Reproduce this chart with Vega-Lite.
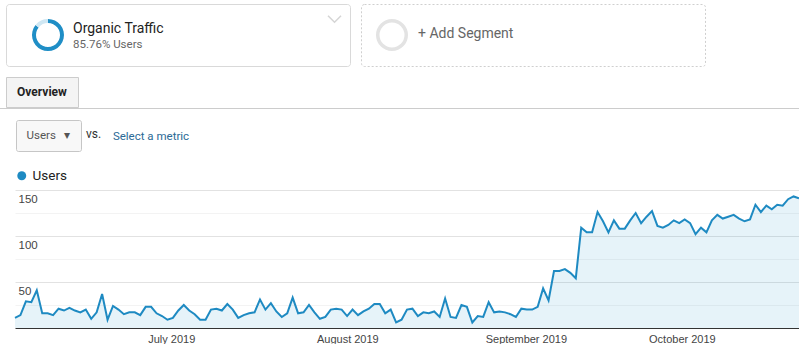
{
  "$schema": "https://vega.github.io/schema/vega-lite/v6.json",
  "padding": 0,
  "background": "white",
  "spacing": 0,
  "resolve": {"scale": {"color": "independent"}, "legend": {"color": "independent"}},
  "config": {"view": {"stroke": null}, "font": "Roboto"},
  "datasets": {
    "segment": [
      {"segment": "Organic Traffic", "share": 85.76},
      {"segment": "Other", "share": 14.24}
    ],
    "annotations": [
      {"date": "2019-07-03"}, {"date": "2019-08-01"}, {"date": "2019-08-29"}, {"date": "2019-10-03"}
    ],
    "traffic": [
      {"date": "2019-06-07", "users": 11}, {"date": "2019-06-08", "users": 14}, {"date": "2019-06-09", "users": 29},
      {"date": "2019-06-10", "users": 28}, {"date": "2019-06-11", "users": 41}, {"date": "2019-06-12", "users": 16},
      {"date": "2019-06-13", "users": 16}, {"date": "2019-06-14", "users": 14}, {"date": "2019-06-15", "users": 21},
      {"date": "2019-06-16", "users": 19}, {"date": "2019-06-17", "users": 22}, {"date": "2019-06-18", "users": 19},
      {"date": "2019-06-19", "users": 17}, {"date": "2019-06-20", "users": 20}, {"date": "2019-06-21", "users": 10},
      {"date": "2019-06-22", "users": 17}, {"date": "2019-06-23", "users": 37}, {"date": "2019-06-24", "users": 9},
      {"date": "2019-06-25", "users": 24}, {"date": "2019-06-26", "users": 20}, {"date": "2019-06-27", "users": 15},
      {"date": "2019-06-28", "users": 17}, {"date": "2019-06-29", "users": 17}, {"date": "2019-06-30", "users": 14},
      {"date": "2019-07-01", "users": 23}, {"date": "2019-07-02", "users": 23}, {"date": "2019-07-03", "users": 16},
      {"date": "2019-07-04", "users": 13}, {"date": "2019-07-05", "users": 9}, {"date": "2019-07-06", "users": 11},
      {"date": "2019-07-07", "users": 19}, {"date": "2019-07-08", "users": 25}, {"date": "2019-07-09", "users": 19},
      {"date": "2019-07-10", "users": 15}, {"date": "2019-07-11", "users": 9}, {"date": "2019-07-12", "users": 9},
      {"date": "2019-07-13", "users": 20}, {"date": "2019-07-14", "users": 21}, {"date": "2019-07-15", "users": 19},
      {"date": "2019-07-16", "users": 26}, {"date": "2019-07-17", "users": 20}, {"date": "2019-07-18", "users": 11},
      {"date": "2019-07-19", "users": 14}, {"date": "2019-07-20", "users": 16}, {"date": "2019-07-21", "users": 17},
      {"date": "2019-07-22", "users": 31}, {"date": "2019-07-23", "users": 20}, {"date": "2019-07-24", "users": 27},
      {"date": "2019-07-25", "users": 18}, {"date": "2019-07-26", "users": 12}, {"date": "2019-07-27", "users": 16},
      {"date": "2019-07-28", "users": 33}, {"date": "2019-07-29", "users": 16}, {"date": "2019-07-30", "users": 17},
      {"date": "2019-07-31", "users": 25}, {"date": "2019-08-01", "users": 17}, {"date": "2019-08-02", "users": 10},
      {"date": "2019-08-03", "users": 12}, {"date": "2019-08-04", "users": 20}, {"date": "2019-08-05", "users": 21},
      {"date": "2019-08-06", "users": 20}, {"date": "2019-08-07", "users": 13}, {"date": "2019-08-08", "users": 20},
      {"date": "2019-08-09", "users": 14}, {"date": "2019-08-10", "users": 18}, {"date": "2019-08-11", "users": 21},
      {"date": "2019-08-12", "users": 26}, {"date": "2019-08-13", "users": 26}, {"date": "2019-08-14", "users": 16},
      {"date": "2019-08-15", "users": 20}, {"date": "2019-08-16", "users": 6}, {"date": "2019-08-17", "users": 9},
      {"date": "2019-08-18", "users": 20}, {"date": "2019-08-19", "users": 21}, {"date": "2019-08-20", "users": 13},
      {"date": "2019-08-21", "users": 17}, {"date": "2019-08-22", "users": 16}, {"date": "2019-08-23", "users": 18},
      {"date": "2019-08-24", "users": 12}, {"date": "2019-08-25", "users": 32}, {"date": "2019-08-26", "users": 12},
      {"date": "2019-08-27", "users": 11}, {"date": "2019-08-28", "users": 25}, {"date": "2019-08-29", "users": 23},
      {"date": "2019-08-30", "users": 6}, {"date": "2019-08-31", "users": 13}, {"date": "2019-09-01", "users": 12},
      {"date": "2019-09-02", "users": 28}, {"date": "2019-09-03", "users": 17}, {"date": "2019-09-04", "users": 18},
      {"date": "2019-09-05", "users": 17}, {"date": "2019-09-06", "users": 15}, {"date": "2019-09-07", "users": 12},
      {"date": "2019-09-08", "users": 21}, {"date": "2019-09-09", "users": 20}, {"date": "2019-09-10", "users": 20},
      {"date": "2019-09-11", "users": 23}, {"date": "2019-09-12", "users": 43}, {"date": "2019-09-13", "users": 30},
      {"date": "2019-09-14", "users": 62}, {"date": "2019-09-15", "users": 62}, {"date": "2019-09-16", "users": 64},
      {"date": "2019-09-17", "users": 60}, {"date": "2019-09-18", "users": 54}, {"date": "2019-09-19", "users": 109},
      {"date": "2019-09-20", "users": 104}, {"date": "2019-09-21", "users": 104}, {"date": "2019-09-22", "users": 126},
      {"date": "2019-09-23", "users": 116}, {"date": "2019-09-24", "users": 104}, {"date": "2019-09-25", "users": 117},
      {"date": "2019-09-26", "users": 108}, {"date": "2019-09-27", "users": 108}, {"date": "2019-09-28", "users": 117},
      {"date": "2019-09-29", "users": 125}, {"date": "2019-09-30", "users": 114}, {"date": "2019-10-01", "users": 121},
      {"date": "2019-10-02", "users": 127}, {"date": "2019-10-03", "users": 111}, {"date": "2019-10-04", "users": 109},
      {"date": "2019-10-05", "users": 112}, {"date": "2019-10-06", "users": 117}, {"date": "2019-10-07", "users": 114},
      {"date": "2019-10-08", "users": 118}, {"date": "2019-10-09", "users": 114}, {"date": "2019-10-10", "users": 102},
      {"date": "2019-10-11", "users": 109}, {"date": "2019-10-12", "users": 104}, {"date": "2019-10-13", "users": 117},
      {"date": "2019-10-14", "users": 123}, {"date": "2019-10-15", "users": 119}, {"date": "2019-10-16", "users": 121},
      {"date": "2019-10-17", "users": 123}, {"date": "2019-10-18", "users": 119}, {"date": "2019-10-19", "users": 116},
      {"date": "2019-10-20", "users": 118}, {"date": "2019-10-21", "users": 134}, {"date": "2019-10-22", "users": 126},
      {"date": "2019-10-23", "users": 133}, {"date": "2019-10-24", "users": 129}, {"date": "2019-10-25", "users": 134},
      {"date": "2019-10-26", "users": 133}, {"date": "2019-10-27", "users": 140}, {"date": "2019-10-28", "users": 143},
      {"date": "2019-10-29", "users": 141}
    ]
  },
  "vconcat": [
    {"data": {"values": []}, "mark": "point", "width": 1, "height": 3},
    {
      "spacing": 0,
      "hconcat": [
        {"data": {"values": []}, "mark": "point", "width": 5, "height": 62},
        {
          "width": 344, "height": 62,
          "view": {"stroke": "#d9d9d9", "strokeWidth": 1, "cornerRadius": 3},
          "title": {
            "text": "Organic Traffic", "subtitle": "85.76% Users",
            "anchor": "start", "frame": "group", "dx": 67, "offset": -46,
            "font": "Roboto", "fontSize": 14, "fontWeight": "normal", "color": "#222222",
            "subtitleFont": "Roboto", "subtitleFontSize": 11.5, "subtitleColor": "#666666", "subtitlePadding": 3
          },
          "resolve": {"scale": {"x": "independent", "y": "independent"}},
          "layer": [
            {
              "data": {"name": "segment"},
              "mark": {"type": "arc", "innerRadius": 12, "outerRadius": 16},
              "encoding": {
                "x": {"datum": "Organic Traffic", "type": "nominal", "axis": null,
                      "scale": {"type": "point", "align": 0.1221}},
                "theta": {"field": "share", "type": "quantitative"},
                "color": {"field": "segment", "type": "nominal",
                          "scale": {"domain": ["Organic Traffic", "Other"], "range": ["#1f8ec6", "#cfe7f3"]},
                          "legend": null}
              }
            },
            {
              "data": {"values": [{"icon": "collapse"}]},
              "mark": {"type": "point", "shape": "M-1,-0.5L0,0.5L1,-0.5", "size": 169, "filled": false,
                       "stroke": "#c4c4c4", "strokeWidth": 1.5},
              "encoding": {
                "x": {"datum": "collapse", "type": "nominal", "axis": null,
                      "scale": {"type": "point", "align": 0.955}},
                "y": {"datum": "collapse", "type": "nominal", "axis": null,
                      "scale": {"type": "point", "align": 0.242}}
              }
            }
          ]
        },
        {"data": {"values": []}, "mark": "point", "width": 9, "height": 62},
        {
          "width": 344, "height": 62,
          "view": {"stroke": "#cfcfcf", "strokeDash": [2, 2], "cornerRadius": 3},
          "title": {
            "text": "+ Add Segment", "anchor": "start", "frame": "group", "dx": 57, "offset": -36.5,
            "font": "Roboto", "fontSize": 14, "fontWeight": "normal", "color": "#666666"
          },
          "data": {"values": [{"segment": "Add Segment"}]},
          "mark": {"type": "arc", "innerRadius": 12.5, "outerRadius": 16, "color": "#e3e3e3"},
          "encoding": {
            "x": {"datum": "Add Segment", "type": "nominal", "axis": null,
                  "scale": {"type": "point", "align": 0.0901}}
          }
        }
      ]
    },
    {"data": {"values": []}, "mark": "point", "width": 1, "height": 9},
    {
      "spacing": 0,
      "hconcat": [
        {"data": {"values": []}, "mark": "point", "width": 5, "height": 30},
        {"data": {"values": [{"label": "Overview"}]}, "width": 72, "height": 30,
         "view": {"stroke": "#cccccc", "fill": "#f4f4f4"},
         "mark": {"type": "text", "fontWeight": "bold", "fontSize": 12, "color": "#222222", "baseline": "middle"},
         "encoding": {"text": {"field": "label"}}}
      ]
    },
    {"data": {"values": []}, "mark": "point", "width": 799, "height": 1, "view": {"fill": "#cccccc", "stroke": null}},
    {"data": {"values": []}, "mark": "point", "width": 1, "height": 10},
    {
      "spacing": 0,
      "hconcat": [
        {"data": {"values": []}, "mark": "point", "width": 15, "height": 32},
        {"data": {"values": [{"label": "Users\u00a0\u00a0\u00a0\u25be"}]}, "width": 65, "height": 31,
         "view": {"stroke": "#c6c6c6", "fill": "#f8f8f8", "cornerRadius": 2},
         "mark": {"type": "text", "fontSize": 11.5, "color": "#555555", "baseline": "middle"},
         "encoding": {"text": {"field": "label"}}},
        {"data": {"values": []}, "mark": "point", "width": 3, "height": 32},
        {"data": {"values": [{"label": "vs."}]}, "width": 17, "height": 28,
         "mark": {"type": "text", "align": "center", "baseline": "middle", "fontSize": 12, "color": "#333333"},
         "encoding": {"text": {"field": "label"}}},
        {"data": {"values": []}, "mark": "point", "width": 10, "height": 32},
        {"data": {"values": [{"label": "Select a metric"}]}, "width": 72, "height": 34,
         "mark": {"type": "text", "align": "center", "baseline": "middle", "fontSize": 11.5, "color": "#2b6a96"},
         "encoding": {"text": {"field": "label"}}}
      ]
    },
    {"data": {"values": []}, "mark": "point", "width": 1, "height": 15},
    {
      "spacing": 0,
      "resolve": {"scale": {"color": "independent"}, "legend": {"color": "independent"}},
      "hconcat": [
        {"data": {"values": []}, "mark": "point", "width": 11, "height": 10},
        {
          "width": 784,
          "height": 138,
          "data": {"name": "traffic"},
          "encoding": {
            "x": {
              "field": "date", "type": "temporal",
              "scale": {"type": "utc", "nice": false},
              "axis": {
                "title": null,
                "values": [
                  {"year": 2019, "month": 7, "date": 1, "utc": true},
                  {"year": 2019, "month": 8, "date": 1, "utc": true},
                  {"year": 2019, "month": 9, "date": 1, "utc": true},
                  {"year": 2019, "month": 10, "date": 1, "utc": true}
                ],
                "format": "%B %Y",
                "labelAlign": "left",
                "labelOffset": 2,
                "labelFlush": false,
                "labelOverlap": false,
                "labelPadding": 5,
                "labelFont": "Liberation Sans",
                "labelFontSize": 11,
                "labelColor": "#444444",
                "ticks": false,
                "grid": false,
                "domainColor": "#333333",
                "domainWidth": 1,
                "zindex": 1
              }
            },
            "y": {
              "field": "users", "type": "quantitative",
              "scale": {"domain": [0, 150], "nice": false},
              "axis": {
                "title": null,
                "values": [25, 50, 75, 100, 125, 150],
                "domain": false,
                "ticks": false,
                "labelAlign": "left",
                "labelBaseline": "top",
                "labelPadding": -3,
                "labelOffset": 3,
                "labelFont": "Liberation Sans",
                "labelFontSize": 11.5,
                "labelColor": "#444444",
                "labelExpr": "datum.value % 50 === 0 ? datum.label : ''",
                "gridColor": {"condition": {"test": "datum.value % 50 === 0", "value": "#e2e2e2"}, "value": "#f3f3f3"}
              }
            }
          },
          "layer": [
            {
              "mark": {"type": "area", "color": "#0a8ac4", "opacity": 0.1}
            },
            {
              "mark": {"type": "line", "strokeWidth": 2},
              "encoding": {
                "color": {
                  "datum": "Users",
                  "scale": {"range": ["#1e8ac2"]},
                  "legend": {
                    "orient": "top",
                    "title": null,
                    "symbolType": "circle",
                    "symbolSize": 80,
                    "symbolFillColor": "#1e8ac2",
                    "symbolStrokeWidth": 0,
                    "labelFont": "Roboto",
                    "labelFontSize": 13.5,
                    "labelColor": "#222222",
                    "padding": 0,
                    "offset": 7
                  }
                }
              }
            },
            {
              "data": {"name": "annotations"},
              "mark": {"type": "point", "shape": "M-1,-0.7L1,-0.7L1,0.5L0.25,0.5L0,0.85L-0.25,0.5L-1,0.5Z M-0.5,-0.25L0.5,-0.25 M-0.5,0.1L0.3,0.1",
                       "size": 144, "filled": false, "fill": "white", "stroke": "#8a8a8a", "strokeWidth": 1, "opacity": 1},
              "encoding": {"y": {"datum": 0}}
            }
          ]
        }
      ]
    }
  ]
}
